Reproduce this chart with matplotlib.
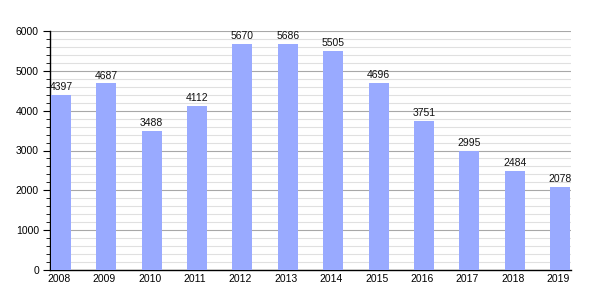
import matplotlib
matplotlib.use("Agg")
import matplotlib.pyplot as plt
from matplotlib.ticker import MultipleLocator
import matplotlib.transforms as mtransforms

plt.rcParams["font.family"] = ["Liberation Sans", "DejaVu Sans"]

years = ["2008", "2009", "2010", "2011", "2012", "2013", "2014", "2015", "2016", "2017", "2018", "2019"]
values = [4397, 4687, 3488, 4112, 5670, 5686, 5505, 4696, 3751, 2995, 2484, 2078]

fig = plt.figure(figsize=(6, 3), dpi=100)
ax = fig.add_axes([50/600, 30/300, 521/600, 239/300])
x = list(range(len(years)))
ax.bar(x, values, width=0.44, color="#99aaff", zorder=3)
for xi, v in zip(x, values):
    ax.text(xi, v + 70, str(v), ha="center", va="bottom", fontsize=7.5, color="#111111", zorder=4)

ax.set_xlim(-0.24, 11.24)
ax.set_ylim(0, 6000)
ax.yaxis.set_major_locator(MultipleLocator(1000))
ax.yaxis.set_minor_locator(MultipleLocator(200))
ax.grid(axis="y", which="major", color="#a8a8a8", linewidth=0.8, zorder=0)
ax.grid(axis="y", which="minor", color="#e0e0e0", linewidth=0.8, zorder=0)
ax.set_xticks(x)
ax.set_xticklabels(years)
ax.tick_params(axis="x", length=0, labelsize=7.5, pad=3)
ax.tick_params(axis="y", which="major", length=5, labelsize=7.5, pad=3)
ax.tick_params(axis="y", which="minor", length=3)
offset = mtransforms.ScaledTranslation(-2/100, 0, fig.dpi_scale_trans)
for lab in ax.get_xticklabels():
    lab.set_transform(lab.get_transform() + offset)
for s in ["top", "right"]:
    ax.spines[s].set_visible(False)
ax.spines["left"].set_linewidth(1)
ax.spines["bottom"].set_linewidth(1)
fig.savefig("out.png", dpi=100)
